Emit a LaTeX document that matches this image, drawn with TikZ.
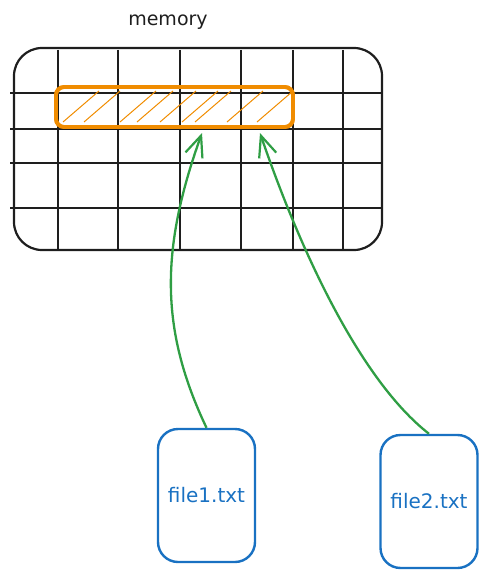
\documentclass[tikz,border=0pt]{standalone}
\usepackage{fontspec}
\setmainfont{DejaVu Sans}
\usepackage{tikz}
\usetikzlibrary{arrows.meta,positioning}
\definecolor{ink}{HTML}{1E1E1E}
\definecolor{slot}{HTML}{F08C00}
\definecolor{fileblue}{HTML}{1971C2}
\definecolor{link}{HTML}{2F9E44}

\begin{document}
\begin{tikzpicture}[
  x=1pt,y=-1pt,
  mem/.style={draw=ink,line width=2.2pt,rounded corners=28pt,
    minimum width=368pt,minimum height=202pt},
  blk/.style={draw=slot,line width=3.8pt,rounded corners=8pt,
    minimum width=237pt,minimum height=40pt},
  file/.style={draw=fileblue,line width=2.4pt,rounded corners=20pt,
    minimum width=97pt,minimum height=133pt,text=fileblue,
    font={\fontsize{20}{23}\selectfont}},
  lbl/.style={text=ink,font={\fontsize{19}{23}\selectfont}},
  grid/.style={ink,line width=2.8pt},
  a/.style={link,line width=2.3pt,-{Straight Barb[length=21pt,width=18pt,line width=2.2pt]}}
]
\useasboundingbox (0,0) rectangle (487,578);

\node[lbl] (title) at (168,22) {memory};
\node[mem] (memory) at (198,149) {};

% grid
\foreach \y in {93,129,163,208}
  \draw[grid] (10,\y) -- (383,\y);
\foreach \x in {58,118,180,241,293,343}
  \draw[grid] (\x,50) -- (\x,250);

% reserved block
\node[blk] (block) at (174.5,107) {};
\begin{scope}
  \clip[rounded corners=8pt] (block.south west) rectangle (block.north east);
  \foreach \x in {63,84,120,137,160,182,195,227,257}
    \draw[slot,line width=1pt] (\x,122) -- ++(36,-31);
\end{scope}
\node[blk] at (block) {};

\node[file] (file1) at (206.5,495.5) {file1.txt};
\node[file] (file2) at (429,501.5) {file2.txt};

\coordinate (hit1) at (202,133);
\coordinate (hit2) at (260,133);

\draw[a] (file1.north) .. controls (160,330) and (160,250) .. (hit1);
\draw[a] (file2.north) .. controls (360,380) and (300,250) .. (hit2);
\end{tikzpicture}
\end{document}
